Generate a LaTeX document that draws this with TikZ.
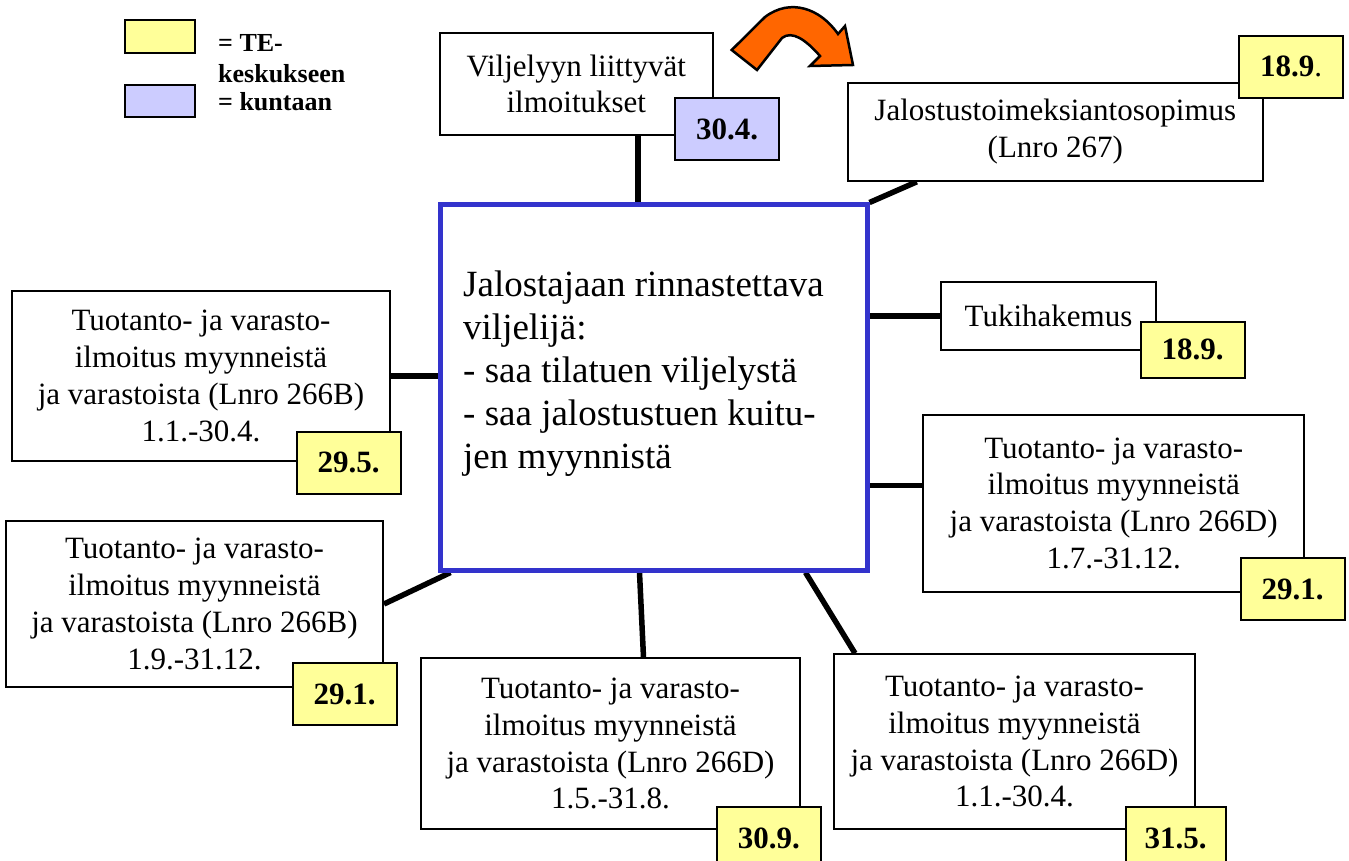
\documentclass[tikz,border=0pt]{standalone}
\usepackage{fontspec}
\setmainfont{Liberation Serif}
\usetikzlibrary{positioning, backgrounds}
\definecolor{teyellow}{HTML}{FFFF99}
\definecolor{kuntablue}{HTML}{CCCCFF}
\definecolor{mainblue}{HTML}{3333CC}
\definecolor{arroworange}{HTML}{FF6600}

\begin{document}
\begin{tikzpicture}[
        x=1pt, y=-1pt,
        box/.style={draw, line width=2pt, fill=white, align=center, inner sep=0pt, font=\fontsize{31}{36.7}\selectfont},
        te/.style={draw, line width=2pt, fill=teyellow, inner sep=0pt, minimum width=104pt, minimum height=62pt, font=\bfseries\fontsize{31}{36}\selectfont},
        kunta/.style={te, fill=kuntablue},
        legend/.style={align=left, anchor=west, inner sep=0pt, font=\bfseries\fontsize{26}{31}\selectfont},
        conn/.style={line width=5.5pt}
    ]
    \useasboundingbox (0,0) rectangle (1349,861);

    % legend
    \node[te, minimum width=70pt, minimum height=33pt] (legTE) at (160,36.5) {};
    \node[kunta, minimum width=70pt, minimum height=32pt] (legKunta) at (160,101) {};
    \node[legend] (legTEtext) at (218,59) {= TE-\\keskukseen};
    \node[legend] (legKuntatext) at (218,102) {= kuntaan};

    % central box
    \node[draw=mainblue, line width=5pt, fill=white, minimum width=427pt, minimum height=365pt] (main) at (653.5,387.5) {};
    \node[anchor=north west, align=left, inner sep=0pt, font=\fontsize{37}{43}\selectfont] (maintext) at (463,271)
        {Jalostajaan rinnastettava\\viljelijä:\\- saa tilatuen viljelystä\\- saa jalostustuen kuitu-\\jen myynnistä};

    % notices
    \node[box, minimum width=273pt, minimum height=102pt] (vilj) at (576.3,83.8) {Viljelyyn liittyvät\\ilmoitukset};
    \node[kunta] (viljDate) at (727,129.3) {30.4.};

    \node[box, minimum width=415pt, minimum height=98pt] (jalo) at (1055.3,131.8) {Jalostustoimeksiantosopimus\\(Lnro 267)};
    \node[te] (jaloDate) at (1291,66.8) {18.9{\mdseries .}};

    \node[box, minimum width=215pt, minimum height=68pt] (tuki) at (1048.5,315.8) {Tukihakemus};
    \node[te, minimum height=56pt] (tukiDate) at (1192.5,349.7) {18.9.};

    \node[box, minimum width=381pt, minimum height=177pt] (rightD) at (1113.7,503.3)
        {Tuotanto- ja varasto-\\ilmoitus myynneistä\\ja varastoista (Lnro 266D)\\1.7.-31.12.};
    \node[te] (rightDDate) at (1292.5,589.3) {29.1.};

    \node[box, minimum width=378pt, minimum height=170pt] (leftB) at (201,376)
        {Tuotanto- ja varasto-\\ilmoitus myynneistä\\ja varastoista (Lnro 266B)\\1.1.-30.4.};
    \node[te] (leftBDate) at (348.5,462.7) {29.5.};

    \node[box, minimum width=377pt, minimum height=166pt] (lowB) at (194.5,604)
        {Tuotanto- ja varasto-\\ilmoitus myynneistä\\ja varastoista (Lnro 266B)\\1.9.-31.12.};
    \node[te] (lowBDate) at (344.5,694.3) {29.1.};

    \node[box, minimum width=379pt, minimum height=171pt] (midD) at (610.5,743.8)
        {Tuotanto- ja varasto-\\ilmoitus myynneistä\\ja varastoista (Lnro 266D)\\1.5.-31.8.};
    \node[te] (midDDate) at (768.8,838) {30.9.};

    \node[box, minimum width=361pt, minimum height=175pt] (lowD) at (1014.5,741.8)
        {Tuotanto- ja varasto-\\ilmoitus myynneistä\\ja varastoista (Lnro 266D)\\1.1.-30.4.};
    \node[te, minimum width=100pt] (lowDDate) at (1175.7,838) {31.5.};

    % connectors
    \begin{scope}[on background layer]
        \draw[conn] ([xshift=-15.5]main.north) -- ([xshift=-15.5]main.north |- vilj.south);
        \draw[conn] (main.north east) -- ([xshift=70]jalo.south west);
        \draw[conn] (tuki.west) -- (tuki.west -| main.east);
        \draw[conn] ([yshift=18]rightD.west) -- ([yshift=18]rightD.west -| main.east);
        \draw[conn] (leftB.east) -- (leftB.east -| main.west);
        \draw[conn] (lowB.east) -- ([xshift=13]main.south west);
        \draw[conn] ([xshift=-14]main.south) -- ([xshift=33]midD.north);
        \draw[conn] ([xshift=152]main.south) -- ([xshift=22]lowD.north west);
    \end{scope}

    % curved arrow
    \draw[line width=2.5pt, fill=arroworange, line join=miter]
        (731.7,50) -- (765,17) .. controls (790,-2) and (820,8) .. (838,34)
        -- (845,26) -- (853,65) -- (810,66) -- (820,56)
        .. controls (806,40) and (792,30) .. (782,38) -- (757,70) -- cycle;
\end{tikzpicture}
\end{document}
